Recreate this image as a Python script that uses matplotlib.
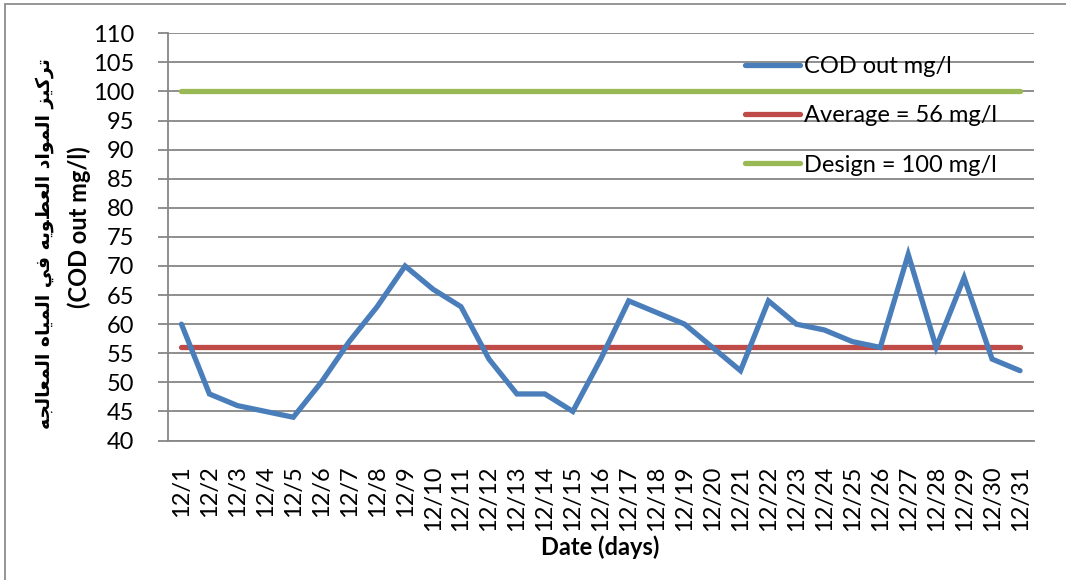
import matplotlib
matplotlib.use("Agg")
import matplotlib.pyplot as plt
from matplotlib.patches import Rectangle

# ---- data ----
days = [f"12/{d}" for d in range(1, 32)]
cod_out = [60, 48, 46, 45, 44, 50, 57, 63, 70, 66, 63, 54, 48, 48, 45, 54,
           64, 62, 60, 56, 52, 64, 60, 59, 57, 56, 72, 56, 68, 54, 52]
average_value = 56
design_value = 100
series_labels = ["COD out mg/l", "Average = 56 mg/l", "Design = 100 mg/l"]
y_ticks = list(range(40, 111, 5))
x_title = "Date (days)"
y_title_ar = "تركيز المواد العضويه في المياه المعالجه"
y_title_en = "(COD out mg/l)"

# ---- minimal Arabic shaping (contextual forms + visual order) ----
FORMS = {  # isolated, final, initial, medial
    "ا": ("\uFE8D", "\uFE8E", None, None),
    "ت": ("\uFE95", "\uFE96", "\uFE97", "\uFE98"),
    "ج": ("\uFE9D", "\uFE9E", "\uFE9F", "\uFEA0"),
    "د": ("\uFEA9", "\uFEAA", None, None),
    "ر": ("\uFEAD", "\uFEAE", None, None),
    "ز": ("\uFEAF", "\uFEB0", None, None),
    "ض": ("\uFEBF", "\uFEC0", "\uFEC1", "\uFEC2"),
    "ع": ("\uFEC9", "\uFECA", "\uFECB", "\uFECC"),
    "ف": ("\uFED1", "\uFED2", "\uFED3", "\uFED4"),
    "ك": ("\uFED9", "\uFEDA", "\uFEDB", "\uFEDC"),
    "ل": ("\uFEDD", "\uFEDE", "\uFEDF", "\uFEE0"),
    "م": ("\uFEE1", "\uFEE2", "\uFEE3", "\uFEE4"),
    "ه": ("\uFEE9", "\uFEEA", "\uFEEB", "\uFEEC"),
    "و": ("\uFEED", "\uFEEE", None, None),
    "ي": ("\uFEF1", "\uFEF2", "\uFEF3", "\uFEF4"),
}


def shape_arabic(text):
    def dual(c):
        return c in FORMS and FORMS[c][2] is not None

    out = []
    for i, c in enumerate(text):
        if c not in FORMS:
            out.append(c)
            continue
        prev_c = text[i - 1] if i > 0 else ""
        next_c = text[i + 1] if i + 1 < len(text) else ""
        jp = dual(prev_c)
        jn = dual(c) and next_c in FORMS
        iso, fin, ini, med = FORMS[c]
        if jp and jn:
            out.append(med)
        elif jp:
            out.append(fin)
        elif jn:
            out.append(ini)
        else:
            out.append(iso)
    return "".join(reversed(out))


# ---- figure ----
W, H, DPI = 1066, 580, 100
fig = plt.figure(figsize=(W / DPI, H / DPI), dpi=DPI)
fig.patch.set_facecolor("white")

# outer chart border
fig.patches.append(Rectangle((5 / W, -0.1), 1.2, 1 - 4.5 / H + 0.1,
                             transform=fig.transFigure, fill=False,
                             edgecolor="#8c8c8c", linewidth=1.3))

left, right, top, bottom = 167.5, 1034, 33.3, 440.5
ax = fig.add_axes([left / W, 1 - bottom / H, (right - left) / W, (bottom - top) / H])

grid_c = "#868686"
x = list(range(len(days)))
ax.plot(x, cod_out, color="#4A7EBB", lw=3.8, solid_capstyle="round",
        solid_joinstyle="miter", label=series_labels[0], zorder=4)
ax.plot(x, [average_value] * len(days), color="#BE4B48", lw=3.8,
        solid_capstyle="round", label=series_labels[1], zorder=3)
ax.plot(x, [design_value] * len(days), color="#98B954", lw=3.8,
        solid_capstyle="round", label=series_labels[2], zorder=3)

ax.set_xlim(-0.5, len(days) - 0.5)
ax.set_ylim(40, 110)
ax.set_yticks(y_ticks)
ax.set_xticks(x)

font = "Lato"
fs = 17
ax.set_yticklabels([str(v) for v in y_ticks], fontsize=fs, fontfamily=font)
ax.set_xticklabels(days, rotation=90, fontsize=fs, fontfamily=font)
ax.tick_params(axis="y", length=7, width=1.3, color=grid_c, pad=17)
ax.tick_params(axis="x", length=0, pad=18)

ax.grid(axis="y", color=grid_c, linewidth=1.3, zorder=0)
ax.set_axisbelow(True)
for s in ("top", "right"):
    ax.spines[s].set_visible(False)
for s in ("left", "bottom"):
    ax.spines[s].set_color(grid_c)
    ax.spines[s].set_linewidth(1.3)

fig.text(600 / W, 1 - 547 / H, x_title, fontsize=fs, fontweight="bold",
         fontfamily=font, ha="center", va="center")
fig.text(45 / W, 1 - 244 / H, shape_arabic(y_title_ar), fontsize=13.5,
         fontweight="bold", family=["DejaVu Sans"], rotation=90,
         ha="center", va="center")
fig.text(79 / W, 1 - 227 / H, y_title_en, fontsize=fs, fontweight="bold",
         fontfamily=font, rotation=90, ha="center", va="center")

leg = ax.legend(loc="upper left", bbox_to_anchor=(745 / W, 1 - 56 / H),
                bbox_transform=fig.transFigure, frameon=False,
                prop={"family": font, "size": fs}, handlelength=2.35,
                handletextpad=0.13, labelspacing=1.2, borderpad=0,
                borderaxespad=0)

fig.savefig("out.png", dpi=DPI)
